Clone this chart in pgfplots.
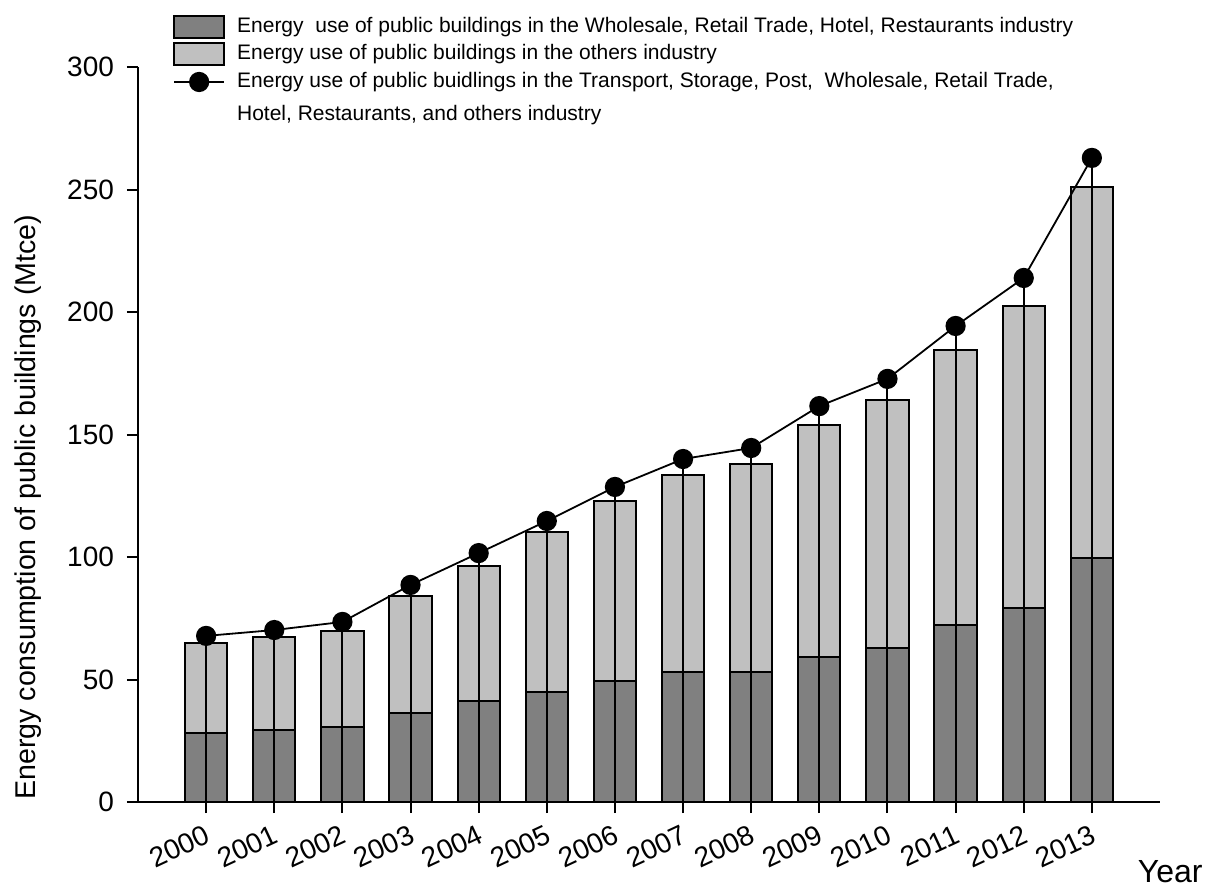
\documentclass[border=0pt]{standalone}
\usepackage{pgfplots}
\pgfplotsset{compat=1.18}
\usepackage{fontspec}
\setmainfont{Liberation Sans}
\definecolor{darkbar}{RGB}{128,128,128}
\definecolor{lightbar}{RGB}{192,192,192}
\pgfplotsset{
  boxlegend/.style={legend image code/.code={\draw[##1] (0pt,-5.5pt) rectangle (25pt,5.5pt);}},
  dotlegend/.style={legend image code/.code={\draw[mark repeat=2,mark phase=2,##1] plot coordinates {(0pt,0pt) (12.5pt,0pt) (25pt,0pt)};}},
}
\begin{document}
\begin{tikzpicture}
\useasboundingbox (-69pt,-44.5pt) rectangle (540.5pt,401pt);
\begin{axis}[
  at={(0,0)}, anchor=south west,
  scale only axis, width=511pt, height=367.5pt,
  xmin=-1, xmax=14, ymin=0, ymax=300,
  axis lines*=left,
  axis line style={-, line width=1pt},
  tick align=outside, major tick length=5.5pt,
  tick style={line width=1pt, black},
  xtick={0,1,...,13},
  xticklabels={2000,2001,2002,2003,2004,2005,2006,2007,2008,2009,2010,2011,2012,2013},
  ytick={0,50,100,150,200,250,300},
  /pgf/number format/assume math mode=true,
  tick label style={font=\fontsize{14}{14}\selectfont},
  x tick label style={rotate=25, anchor=north east, yshift=-1pt},
  y tick label style={xshift=-3pt},
  ylabel={Energy consumption of public buildings (Mtce)},
  ylabel style={at={(axis description cs:-0.108,0.401)}, anchor=center, font=\fontsize{14.3}{14.3}\selectfont},
  xlabel={Year},
  xlabel style={at={(axis description cs:1.01,-0.095)}, anchor=center, font=\fontsize{16}{16}\selectfont},
  legend style={at={(axis description cs:0.034,1.072)}, anchor=north west, draw=none, fill=none,
    inner sep=0pt, font=\fontsize{10.5}{12}\selectfont, cells={anchor=west},
    nodes={inner sep=1pt, text height=8pt, text depth=2.5pt}, row sep=1.25pt,
    /tikz/every odd column/.append style={column sep=5pt}},
  clip=false,
]
% totals (upper bar outline)
\addplot[ybar, bar width=0.62, bar shift=0pt, fill=lightbar, draw=black, line width=1pt, forget plot]
  coordinates {(0,64.9) (1,67.3) (2,69.8) (3,84.1) (4,96.3) (5,110.2) (6,122.9) (7,133.5) (8,138) (9,153.9) (10,164) (11,184.5) (12,202.4) (13,251)};
% wholesale etc.
\addplot[ybar, bar width=0.62, bar shift=0pt, fill=darkbar, draw=black, line width=1pt, forget plot]
  coordinates {(0,28) (1,29.5) (2,30.6) (3,36.3) (4,41.2) (5,44.9) (6,49.4) (7,53) (8,53) (9,59.2) (10,62.9) (11,72.2) (12,79.2) (13,99.6)};
% drop lines
\addplot[ycomb, black, line width=1pt, no marks, forget plot]
  coordinates {(0,67.8) (1,70.2) (2,73.5) (3,88.6) (4,101.6) (5,114.7) (6,128.6) (7,140) (8,144.5) (9,161.6) (10,172.7) (11,194.3) (12,213.9) (13,262.9)};
% total line
\addplot[black, line width=0.9pt, mark=*, mark size=4.6pt, mark options={fill=black}, forget plot]
  coordinates {(0,67.8) (1,70.2) (2,73.5) (3,88.6) (4,101.6) (5,114.7) (6,128.6) (7,140) (8,144.5) (9,161.6) (10,172.7) (11,194.3) (12,213.9) (13,262.9)};
\addlegendimage{boxlegend, fill=darkbar, draw=black, line width=1pt}
\addlegendentry{Energy~ use of public buildings in the Wholesale, Retail Trade, Hotel, Restaurants industry}
\addlegendimage{boxlegend, fill=lightbar, draw=black, line width=1pt}
\addlegendentry{Energy use of public buildings in the others industry}
\addlegendimage{dotlegend, black, line width=0.9pt, mark=*, mark size=4.6pt, mark options={fill=black}}
\addlegendentry{Energy use of public buidlings in the Transport, Storage, Post,~ Wholesale, Retail Trade,}
\addlegendimage{empty legend}
\addlegendentry{\raisebox{-2.75pt}{Hotel, Restaurants, and others industry}}
\end{axis}
\end{tikzpicture}
\end{document}
